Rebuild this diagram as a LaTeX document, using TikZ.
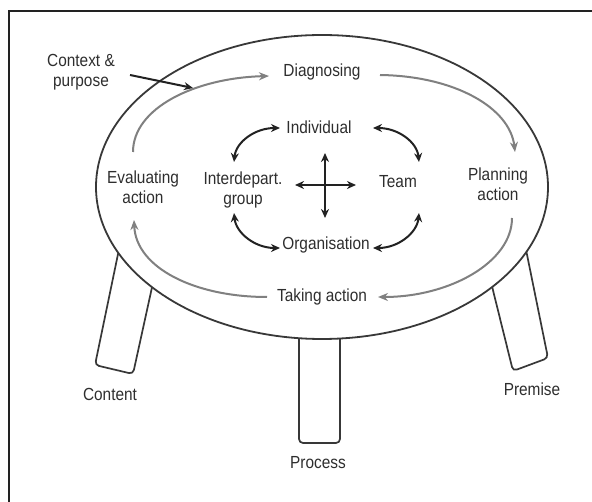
\documentclass[tikz,border=0pt]{standalone}
\usepackage{fontspec}
\setmainfont{Liberation Sans}[FakeStretch=0.88]
\usetikzlibrary{arrows.meta}
\definecolor{txt}{HTML}{2E2E2E}
\definecolor{rim}{HTML}{383838}
\definecolor{cyc}{HTML}{808080}
\definecolor{blk}{HTML}{222222}
\tikzset{
  lbl/.style={text=txt, align=center, inner sep=2pt, font=\fontsize{17.5}{20}\selectfont},
  cycarrow/.style={draw=cyc, line width=2pt, -{Stealth[length=10pt,width=8pt]}},
  blkarrow/.style={draw=blk, line width=2pt, -{Stealth[length=9pt,width=8pt]}},
  dblarrow/.style={draw=blk, line width=2pt, {Stealth[length=9pt,width=8pt]}-{Stealth[length=9pt,width=8pt]}},
  legline/.style={draw=rim, line width=1.7pt, rounded corners=4pt, fill=white},
  rimline/.style={draw=rim, line width=1.8pt, fill=white}
}
\begin{document}
\begin{tikzpicture}[x=1pt,y=-1pt]
\useasboundingbox (0,0) rectangle (592,502);
% frame (top and left edges)
\draw[blk, line width=2pt] (9,502) -- (9,11) -- (592,11);
% legs
\draw[legline] (123,230) -- (95,365) -- (133,374) -- (158,260);
\draw[legline] (299,320) -- (299,443) -- (340,443) -- (340,320);
\draw[legline] (486,262) -- (513,371) -- (548,358) -- (522,230);
% table top
\draw[rimline] (322,187) ellipse [x radius=226, y radius=152];
% labels
\node[lbl] (ctx)  at (81,72)  {Context \&\\purpose};
\node[lbl] (diag) at (322,72) {Diagnosing};
\node[lbl] (plan) at (498,184) {Planning\\action};
\node[lbl] (take) at (322,297) {Taking action};
\node[lbl] (eval) at (143,187) {Evaluating\\action};
\node[lbl] (ind)  at (319,127) {Individual};
\node[lbl] (team) at (398,182) {Team};
\node[lbl] (org)  at (326,245) {Organisation};
\node[lbl] (grp)  at (243,190) {Interdepart.\\group};
\node[lbl] (cont) at (110,394) {Content};
\node[lbl] (proc) at (318,463) {Process};
\node[lbl] (prem) at (532,389) {Premise};
% cycle arrows
\coordinate (d0) at (380,75);
\coordinate (p1) at (515,152);
\coordinate (p0) at (512,218);
\coordinate (t1) at (378,297);
\coordinate (t0) at (267,297);
\coordinate (e1) at (134,220);
\coordinate (e0) at (133,152);
\coordinate (d1) at (269,76);
\draw[cycarrow] (d0) .. controls (455,76) and (510,108) .. (p1);
\draw[cycarrow] (p0) .. controls (512,262) and (450,297) .. (t1);
\draw[cycarrow] (t0) .. controls (195,297) and (136,268) .. (e1);
\draw[cycarrow] (e0) .. controls (133,108) and (195,78) .. (d1);
% context arrow
\coordinate (c0) at (130,75);
\coordinate (c1) at (193,88);
\draw[blkarrow] (c0) -- (c1);
% central cross
\coordinate (vt) at (325,153);
\coordinate (vb) at (325,218);
\coordinate (hl) at (295,185);
\coordinate (hr) at (356,185);
\draw[dblarrow] (vt) -- (vb);
\draw[dblarrow] (hl) -- (hr);
% curved double arrows
\coordinate (a1) at (280,128);
\coordinate (a2) at (234,162);
\coordinate (b1) at (373,128);
\coordinate (b2) at (419,162);
\coordinate (g1) at (234,213);
\coordinate (g2) at (280,248);
\coordinate (h1) at (373,248);
\coordinate (h2) at (419,213);
\draw[dblarrow] (a1) .. controls (255,128) and (236,142) .. (a2);
\draw[dblarrow] (b1) .. controls (398,128) and (417,142) .. (b2);
\draw[dblarrow] (g1) .. controls (236,233) and (255,248) .. (g2);
\draw[dblarrow] (h1) .. controls (398,248) and (417,233) .. (h2);
\end{tikzpicture}
\end{document}
